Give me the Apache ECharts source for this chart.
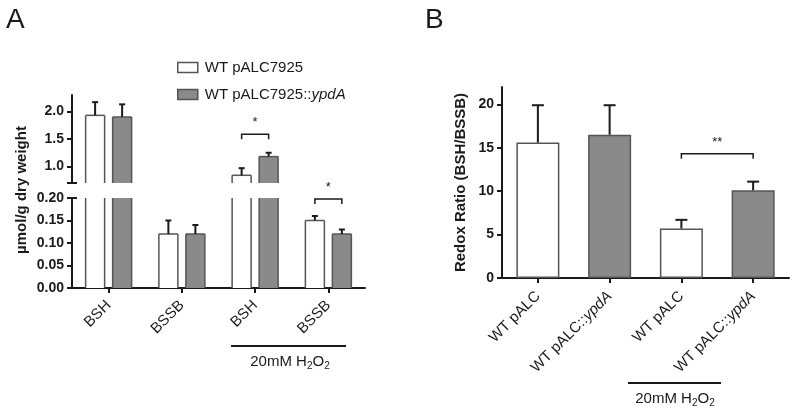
<!DOCTYPE html>
<html><head><meta charset="utf-8">
<script src="https://cdn.jsdelivr.net/npm/echarts@6/dist/echarts.min.js"></script>
<style>html,body{margin:0;padding:0;background:#fff}#c{width:800px;height:413px}</style>
</head><body><div id="c"></div>
<script>
// ---------- data ----------
const catsA = ['BSH', 'BSSB', 'BSH', 'BSSB'];
const ctrlA = [1.93, 0.12, 0.84, 0.15];
const ctrlAErr = [2.17, 0.15, 0.97, 0.16];
const ypdaA = [1.90, 0.12, 1.18, 0.12];
const ypdaAErr = [2.13, 0.14, 1.25, 0.13];
const upperTicksA = [1.0, 1.5, 2.0];
const sigA = [[2, 1.585, '*'], [3, 0.198, '*']];   // [category, bracket y, label]
const nameCtrl = 'WT pALC7925';
const nameYpda = 'WT pALC7925::ypdA';

const catsB = ['WT pALC', 'WT pALC::ypdA', 'WT pALC', 'WT pALC::ypdA'];
const strainB = [0, 1, 0, 1];
const ratioB = [15.6, 16.5, 5.7, 10.1];
const ratioBErr = [19.9, 19.9, 6.7, 11.1];
const ticksB = [0, 5, 10, 15, 20];
const sigB = [[2, 3, 14.3, '**']];                  // [from cat, to cat, bracket y, label]
const treatLabel = '20mM H{s|2}O{s|2}';

// ---------- style ----------
const FF = '"Liberation Sans", Arial, sans-serif';
const INK = '#1a1a1a';
const FILL = ['#ffffff', '#8a8a8a'];
const BORDER = '#555';
const upperMin = 0.7, upperMax = 2.3, lowerMax = 0.2;
const barWA = 19, gapA = 8;
const offA = (barWA + gapA) / 2;
const barWB = 43;

function barRender(offset, k, segMin, segMax) {
  return function (params, api) {
    const cat = api.value(0), v = api.value(1);
    if (v <= segMin) return null;
    const lo = Math.max(0, segMin), hi = Math.min(v, segMax);
    const pTop = api.coord([cat, hi]);
    const pBot = api.coord([cat, lo]);
    const x0 = pTop[0] + offset - barWA / 2, x1 = x0 + barWA;
    const children = [
      { type: 'rect', shape: { x: x0, y: pTop[1], width: barWA, height: pBot[1] - pTop[1] },
        style: { fill: FILL[k], stroke: null } },
      { type: 'line', shape: { x1: x0, y1: pTop[1], x2: x0, y2: pBot[1] }, style: { stroke: BORDER, lineWidth: 1.5 } },
      { type: 'line', shape: { x1: x1, y1: pTop[1], x2: x1, y2: pBot[1] }, style: { stroke: BORDER, lineWidth: 1.5 } }
    ];
    if (v <= segMax) children.push({ type: 'line', shape: { x1: x0, y1: pTop[1], x2: x1, y2: pTop[1] },
      style: { stroke: BORDER, lineWidth: 1.5 } });
    return { type: 'group', children: children };
  };
}
function errRender(offset, cap) {
  return function (params, api) {
    const cat = api.value(0);
    const p0 = api.coord([cat, api.value(1)]);
    const p1 = api.coord([cat, api.value(2)]);
    const x = p0[0] + offset;
    return { type: 'group', children: [
      { type: 'line', shape: { x1: x, y1: p0[1], x2: x, y2: p1[1] }, style: { stroke: INK, lineWidth: 2 } },
      { type: 'line', shape: { x1: x - cap, y1: p1[1], x2: x + cap, y2: p1[1] }, style: { stroke: INK, lineWidth: 2 } }
    ] };
  };
}
function bracketShape(x0, x1, y, label, font) {
  return { type: 'group', children: [
    { type: 'polyline', shape: { points: [[x0, y + 5], [x0, y], [x1, y], [x1, y + 5]] },
      style: { stroke: INK, lineWidth: 1.5, fill: null } },
    { type: 'text', style: { text: label, x: (x0 + x1) / 2, y: y - 5, align: 'center', verticalAlign: 'bottom',
      font: font, fill: INK } }
  ] };
}
function capRender(params, api) {
  const y = api.coord([0, api.value(1)])[1];
  const x = params.coordSys.x;
  return { type: 'line', shape: { x1: x - 5, y1: y, x2: x + 5, y2: y }, style: { stroke: INK, lineWidth: 2 } };
}
function errData(means, tops, filt) {
  const out = [];
  means.forEach((m, i) => { if (filt(m, tops[i])) out.push([i, m, tops[i]]); });
  return out;
}

const tickLabel = { color: INK, fontWeight: 'bold', fontSize: 14, fontFamily: FF };
const axLine = { show: true, lineStyle: { color: INK, width: 2 } };
const axTick = { show: true, length: 5, lineStyle: { color: INK, width: 2 } };
const catLabel = { rotate: 45, margin: 15, fontSize: 15, color: INK, fontFamily: FF, interval: 0 };
const barStyle = k => ({ color: FILL[k], borderColor: BORDER, borderWidth: 1.5 });

const seriesA = [];
[[0, upperMin, upperMax], [1, 0, lowerMax]].forEach(([ax, sMin, sMax]) => {
  seriesA.push(
    { type: 'custom', name: nameCtrl, xAxisIndex: ax, yAxisIndex: ax, itemStyle: barStyle(0),
      renderItem: barRender(-offA, 0, sMin, sMax), data: ctrlA.map((v, i) => [i, v]) },
    { type: 'custom', name: nameYpda, xAxisIndex: ax, yAxisIndex: ax, itemStyle: barStyle(1),
      renderItem: barRender(offA, 1, sMin, sMax), data: ypdaA.map((v, i) => [i, v]) }
  );
});

const option = {
  animation: false,
  backgroundColor: '#fff',
  textStyle: { fontFamily: FF },
  grid: [
    { left: 72, top: 95, width: 293, height: 88 },
    { left: 72, top: 198, width: 293, height: 90 },
    { left: 502, top: 87, width: 287, height: 191 }
  ],
  xAxis: [
    { type: 'category', gridIndex: 0, data: catsA, show: false },
    { type: 'category', gridIndex: 1, data: catsA, axisLine: axLine,
      axisTick: Object.assign({ alignWithLabel: true }, axTick), axisLabel: catLabel },
    { type: 'category', gridIndex: 2, data: catsB, axisLine: axLine,
      axisTick: Object.assign({ alignWithLabel: true }, axTick),
      axisLabel: Object.assign({}, catLabel, { margin: 16,
        formatter: v => v.replace('ypdA', '{i|ypdA}'),
        rich: { i: { fontStyle: 'italic', fontSize: 15, fontFamily: FF, color: INK } } }) }
  ],
  yAxis: [
    { type: 'value', gridIndex: 0, min: upperMin, max: upperMax, splitLine: { show: false },
      axisLine: axLine, axisTick: Object.assign({ customValues: upperTicksA }, axTick),
      axisLabel: Object.assign({ customValues: upperTicksA, formatter: v => v.toFixed(1) }, tickLabel) },
    { type: 'value', gridIndex: 1, min: 0, max: lowerMax, interval: 0.05, splitLine: { show: false },
      axisLine: axLine, axisTick: axTick,
      axisLabel: Object.assign({ formatter: v => v.toFixed(2) }, tickLabel) },
    { type: 'value', gridIndex: 2, min: 0, max: 22, splitLine: { show: false },
      axisLine: axLine, axisTick: Object.assign({ customValues: ticksB }, axTick),
      axisLabel: Object.assign({ customValues: ticksB }, tickLabel),
      name: 'Redox Ratio (BSH/BSSB)', nameLocation: 'middle', nameGap: 34,
      nameTextStyle: { fontWeight: 'bold', fontSize: 15, color: INK, fontFamily: FF } }
  ],
  legend: {
    left: 172, top: 55, orient: 'vertical', itemWidth: 20, itemHeight: 10, itemGap: 12, icon: 'rect',
    data: [{ name: nameCtrl, itemStyle: barStyle(0) }, { name: nameYpda, itemStyle: barStyle(1) }],
    formatter: n => n.replace('ypdA', '{i|ypdA}'),
    textStyle: { fontSize: 15, color: INK, fontFamily: FF, padding: [0, 0, 0, 2],
      rich: { i: { fontStyle: 'italic', fontSize: 15, color: INK, fontFamily: FF } } }
  },
  series: seriesA.concat([
    { type: 'custom', xAxisIndex: 0, yAxisIndex: 0, z: 5, renderItem: errRender(-offA, 3),
      data: errData(ctrlA, ctrlAErr, m => m >= upperMin) },
    { type: 'custom', xAxisIndex: 0, yAxisIndex: 0, z: 5, renderItem: errRender(offA, 3),
      data: errData(ypdaA, ypdaAErr, m => m >= upperMin) },
    { type: 'custom', xAxisIndex: 1, yAxisIndex: 1, z: 5, renderItem: errRender(-offA, 3),
      data: errData(ctrlA, ctrlAErr, (m, t) => t <= lowerMax) },
    { type: 'custom', xAxisIndex: 1, yAxisIndex: 1, z: 5, renderItem: errRender(offA, 3),
      data: errData(ypdaA, ypdaAErr, (m, t) => t <= lowerMax) },
    { type: 'custom', xAxisIndex: 0, yAxisIndex: 0, z: 5,
      renderItem: (params, api) => {
        const c = api.coord([api.value(0), api.value(1)]);
        return bracketShape(c[0] - offA, c[0] + offA, c[1], '*', '13px ' + FF);
      }, data: sigA.filter(s => s[1] >= upperMin).map(s => [s[0], s[1]]) },
    { type: 'custom', xAxisIndex: 1, yAxisIndex: 1, z: 5,
      renderItem: (params, api) => {
        const c = api.coord([api.value(0), api.value(1)]);
        return bracketShape(c[0] - offA, c[0] + offA, c[1], '*', '13px ' + FF);
      }, data: sigA.filter(s => s[1] <= lowerMax).map(s => [s[0], s[1]]) },
    { type: 'custom', xAxisIndex: 0, yAxisIndex: 0, z: 6, renderItem: capRender, data: [[0, upperMin]] },
    { type: 'custom', xAxisIndex: 1, yAxisIndex: 1, z: 6, renderItem: capRender, data: [[0, lowerMax]] },
    // Panel B
    { type: 'bar', xAxisIndex: 2, yAxisIndex: 2, barWidth: barWB,
      data: ratioB.map((v, i) => ({ value: v, itemStyle: barStyle(strainB[i]) })) },
    { type: 'custom', xAxisIndex: 2, yAxisIndex: 2, z: 5, renderItem: errRender(0, 6),
      data: ratioB.map((v, i) => [i, v, ratioBErr[i]]) },
    { type: 'custom', xAxisIndex: 2, yAxisIndex: 2, z: 5,
      renderItem: (params, api) => {
        const s = sigB[params.dataIndex];
        const a = api.coord([api.value(0), api.value(2)]);
        const b = api.coord([api.value(1), api.value(2)]);
        return bracketShape(a[0], b[0], a[1], s[3], '13px ' + FF);
      }, data: sigB.map(s => [s[0], s[1], s[2]]) }
  ]),
  graphic: [
    { type: 'text', left: 6, top: 6, style: { text: 'A', font: '28px ' + FF, fill: INK } },
    { type: 'text', left: 425, top: 6, style: { text: 'B', font: '28px ' + FF, fill: INK } },
    { type: 'text', x: 22, y: 190, rotation: Math.PI / 2,
      style: { text: 'µmol/g dry weight', font: 'bold 15px ' + FF, fill: INK, align: 'center', verticalAlign: 'middle' } },
    { type: 'line', shape: { x1: 231, y1: 346, x2: 346, y2: 346 }, style: { stroke: INK, lineWidth: 2 } },
    { type: 'text', x: 290, y: 362,
      style: { text: treatLabel, font: '15px ' + FF, fill: INK, align: 'center', verticalAlign: 'middle',
        rich: { s: { fontSize: 10, fontFamily: FF, fill: INK, padding: [8, 0, 0, 0] } } } },
    { type: 'line', shape: { x1: 628, y1: 383, x2: 721, y2: 383 }, style: { stroke: INK, lineWidth: 2 } },
    { type: 'text', x: 675, y: 399,
      style: { text: treatLabel, font: '15px ' + FF, fill: INK, align: 'center', verticalAlign: 'middle',
        rich: { s: { fontSize: 10, fontFamily: FF, fill: INK, padding: [8, 0, 0, 0] } } } }
  ]
};

const chart = echarts.init(document.getElementById('c'), null, { renderer: 'canvas' });
chart.setOption(option);
</script>
</body></html>
